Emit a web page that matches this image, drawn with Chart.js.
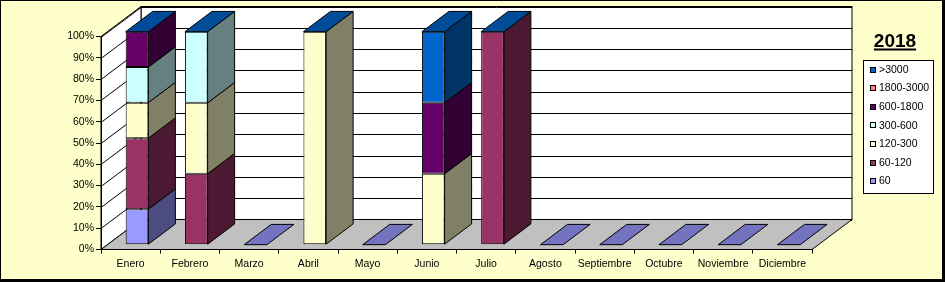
<!DOCTYPE html>
<html>
<head>
<meta charset="utf-8">
<script src="https://cdn.jsdelivr.net/npm/chart.js@4.4.1/dist/chart.umd.min.js"></script>
<style>
html,body{margin:0;padding:0;background:#fff;}
#wrap{width:945px;height:282px;position:relative;}
</style>
</head>
<body>
<div id="wrap"><canvas id="c" width="945" height="282"></canvas></div>
<script>
// ---- Data (percent of each month) ----
const categories = ['Enero','Febrero','Marzo','Abril','Mayo','Junio','Julio','Agosto','Septiembre','Octubre','Noviembre','Diciembre'];
const seriesLabels = ['60','60-120','120-300','300-600','600-1800','1800-3000','>3000'];
const s60       = [16.7, 0,    0, 0,   0, 0,    0,   0, 0, 0, 0, 0];
const s60_120   = [33.3, 33.3, 0, 0,   0, 0,    100, 0, 0, 0, 0, 0];
const s120_300  = [16.7, 33.3, 0, 100, 0, 33.3, 0,   0, 0, 0, 0, 0];
const s300_600  = [16.7, 33.4, 0, 0,   0, 0,    0,   0, 0, 0, 0, 0];
const s600_1800 = [16.6, 0,    0, 0,   0, 33.3, 0,   0, 0, 0, 0, 0];
const s1800_3000= [0,    0,    0, 0,   0, 0,    0,   0, 0, 0, 0, 0];
const s3000     = [0,    0,    0, 0,   0, 33.4, 0,   0, 0, 0, 0, 0];
const yTicks = [0,10,20,30,40,50,60,70,80,90,100];
const chartTitle = '2018';

// ---- Styles ----
const frontColors = ['#9999FF','#993366','#FFFFCC','#CCFFFF','#660066','#FF8080','#0066CC'];
const sideColors  = ['#4C4C80','#4C1933','#808066','#668080','#330033','#804040','#003366'];
const topFilled = '#004C99';
const topEmpty  = '#7373BF';
const FONT = "'Liberation Sans', Arial, sans-serif";
const DX = 40, DY = -30;           // full depth of floor
const BDX = 27, BDY = -20.3;       // bar depth
const OX = 6.4, OY = -4.8;         // bar front-face offset into depth

const seriesData = [s60, s60_120, s120_300, s300_600, s600_1800, s1800_3000, s3000];

const threeD = {
  id: 'threeD',
  beforeDraw(chart) {
    const ctx = chart.ctx, W = chart.width, H = chart.height;
    ctx.save();
    ctx.fillStyle = '#000';
    ctx.fillRect(0,0,W,H);
    ctx.fillStyle = '#FFFFCC';
    ctx.fillRect(1,1,941,278);
    const ys = chart.scales.y, a = chart.chartArea;
    const L = a.left, R = a.right;
    const yT = ys.getPixelForValue(100), yB = ys.getPixelForValue(0);
    ctx.lineWidth = 1; ctx.strokeStyle = '#000';
    // back wall
    ctx.fillStyle = '#fff';
    ctx.fillRect(L+DX, yT+DY, R-L, yB-yT);
    ctx.strokeRect(L+DX, yT+DY, R-L, yB-yT);
    // left wall
    ctx.beginPath();
    ctx.moveTo(L, yT); ctx.lineTo(L+DX, yT+DY); ctx.lineTo(L+DX, yB+DY); ctx.lineTo(L, yB); ctx.closePath();
    ctx.fill(); ctx.stroke();
    // gridlines
    yTicks.forEach(v => {
      const y = Math.round(ys.getPixelForValue(v)) + 0.5;
      ctx.beginPath();
      ctx.moveTo(L, y); ctx.lineTo(L+DX, y+DY); ctx.lineTo(R+DX, y+DY);
      ctx.stroke();
    });
    // floor
    ctx.fillStyle = '#C0C0C0';
    ctx.beginPath();
    ctx.moveTo(L, yB); ctx.lineTo(R, yB); ctx.lineTo(R+DX, yB+DY); ctx.lineTo(L+DX, yB+DY); ctx.closePath();
    ctx.fill(); ctx.stroke();
    ctx.restore();
  },
  beforeDatasetsDraw(chart) {
    chart.ctx.save();
    chart.ctx.translate(OX, OY);
  },
  afterDatasetsDraw(chart) {
    const ctx = chart.ctx;
    ctx.lineWidth = 1; ctx.strokeStyle = '#000';
    const n = categories.length;
    const tops = new Array(n).fill(null);
    chart.data.datasets.forEach((ds, di) => {
      const meta = chart.getDatasetMeta(di);
      meta.data.forEach((el, i) => {
        const p = el.getProps(['x','y','base','width'], true);
        const top = Math.min(p.y, p.base), bot = Math.max(p.y, p.base);
        if (tops[i] === null) tops[i] = {x:p.x, w:p.width, y:top, filled:false};
        if (bot - top > 0.5) {
          if (top < tops[i].y) tops[i].y = top;
          tops[i].filled = true;
          const xr = p.x + p.width/2;
          ctx.fillStyle = sideColors[di];
          ctx.beginPath();
          ctx.moveTo(xr, top); ctx.lineTo(xr+BDX, top+BDY); ctx.lineTo(xr+BDX, bot+BDY); ctx.lineTo(xr, bot); ctx.closePath();
          ctx.fill(); ctx.stroke();
        }
      });
    });
    tops.forEach(t => {
      if (!t) return;
      const xl = t.x - t.w/2, xr = t.x + t.w/2;
      ctx.fillStyle = t.filled ? topFilled : topEmpty;
      ctx.beginPath();
      ctx.moveTo(xl, t.y); ctx.lineTo(xr, t.y); ctx.lineTo(xr+BDX, t.y+BDY); ctx.lineTo(xl+BDX, t.y+BDY); ctx.closePath();
      ctx.fill(); ctx.stroke();
    });
    ctx.restore();
  },
  afterDraw(chart) {
    const ctx = chart.ctx;
    ctx.save();
    // title
    ctx.fillStyle = '#000';
    ctx.font = 'bold 19px ' + FONT;
    ctx.textAlign = 'center'; ctx.textBaseline = 'alphabetic';
    const tx = 895, ty = 46.5;
    ctx.fillText(chartTitle, tx, ty);
    const tw = ctx.measureText(chartTitle).width;
    ctx.fillRect(tx - tw/2, 48.5, tw, 2);
    // legend box
    ctx.fillStyle = '#fff';
    ctx.fillRect(863.5, 60.5, 70, 133);
    ctx.strokeStyle = '#000'; ctx.lineWidth = 1;
    ctx.strokeRect(863.5, 60.5, 70, 133);
    ctx.font = '10.5px ' + FONT;
    ctx.textAlign = 'left'; ctx.textBaseline = 'middle';
    for (let k = 0; k < seriesLabels.length; k++) {
      const di = seriesLabels.length - 1 - k;
      const y = 69.5 + k * 18.6;
      ctx.fillStyle = frontColors[di];
      ctx.fillRect(870.5, Math.round(y) - 2.5, 5, 5);
      ctx.strokeRect(870.5, Math.round(y) - 2.5, 5, 5);
      ctx.fillStyle = '#000';
      ctx.fillText(seriesLabels[di], 879, y + 0.5);
    }
    ctx.restore();
  }
};

new Chart(document.getElementById('c'), {
  type: 'bar',
  data: {
    labels: categories,
    datasets: seriesData.map((d, i) => ({
      label: seriesLabels[i],
      data: d,
      backgroundColor: frontColors[i],
      borderColor: '#000',
      borderWidth: 1,
      borderSkipped: false,
      categoryPercentage: 1,
      barPercentage: 0.383
    }))
  },
  options: {
    responsive: false,
    animation: false,
    events: [],
    layout: { padding: { left: 0, right: 133, top: 36.5, bottom: 0 } },
    plugins: { legend: { display: false }, title: { display: false }, tooltip: { enabled: false } },
    scales: {
      x: {
        stacked: true,
        grid: { drawOnChartArea: false, drawTicks: true, tickLength: 4, color: '#000', offset: true },
        border: { display: true, color: '#000', width: 1 },
        ticks: { color: '#000', font: { family: FONT, size: 10.5 }, padding: 4, maxRotation: 0, autoSkip: false },
        afterFit(s) { s.height = 32.5; }
      },
      y: {
        stacked: true,
        min: 0, max: 100,
        afterBuildTicks(s) { s.ticks = yTicks.map(v => ({ value: v })); },
        grid: { drawOnChartArea: false, drawTicks: true, tickLength: 5, color: '#000' },
        border: { display: true, color: '#000', width: 1 },
        ticks: { color: '#000', font: { family: FONT, size: 10.5 }, padding: 2, callback: v => v + '%' },
        afterFit(s) { s.width = 101; }
      }
    }
  },
  plugins: [threeD]
});
</script>
</body>
</html>
